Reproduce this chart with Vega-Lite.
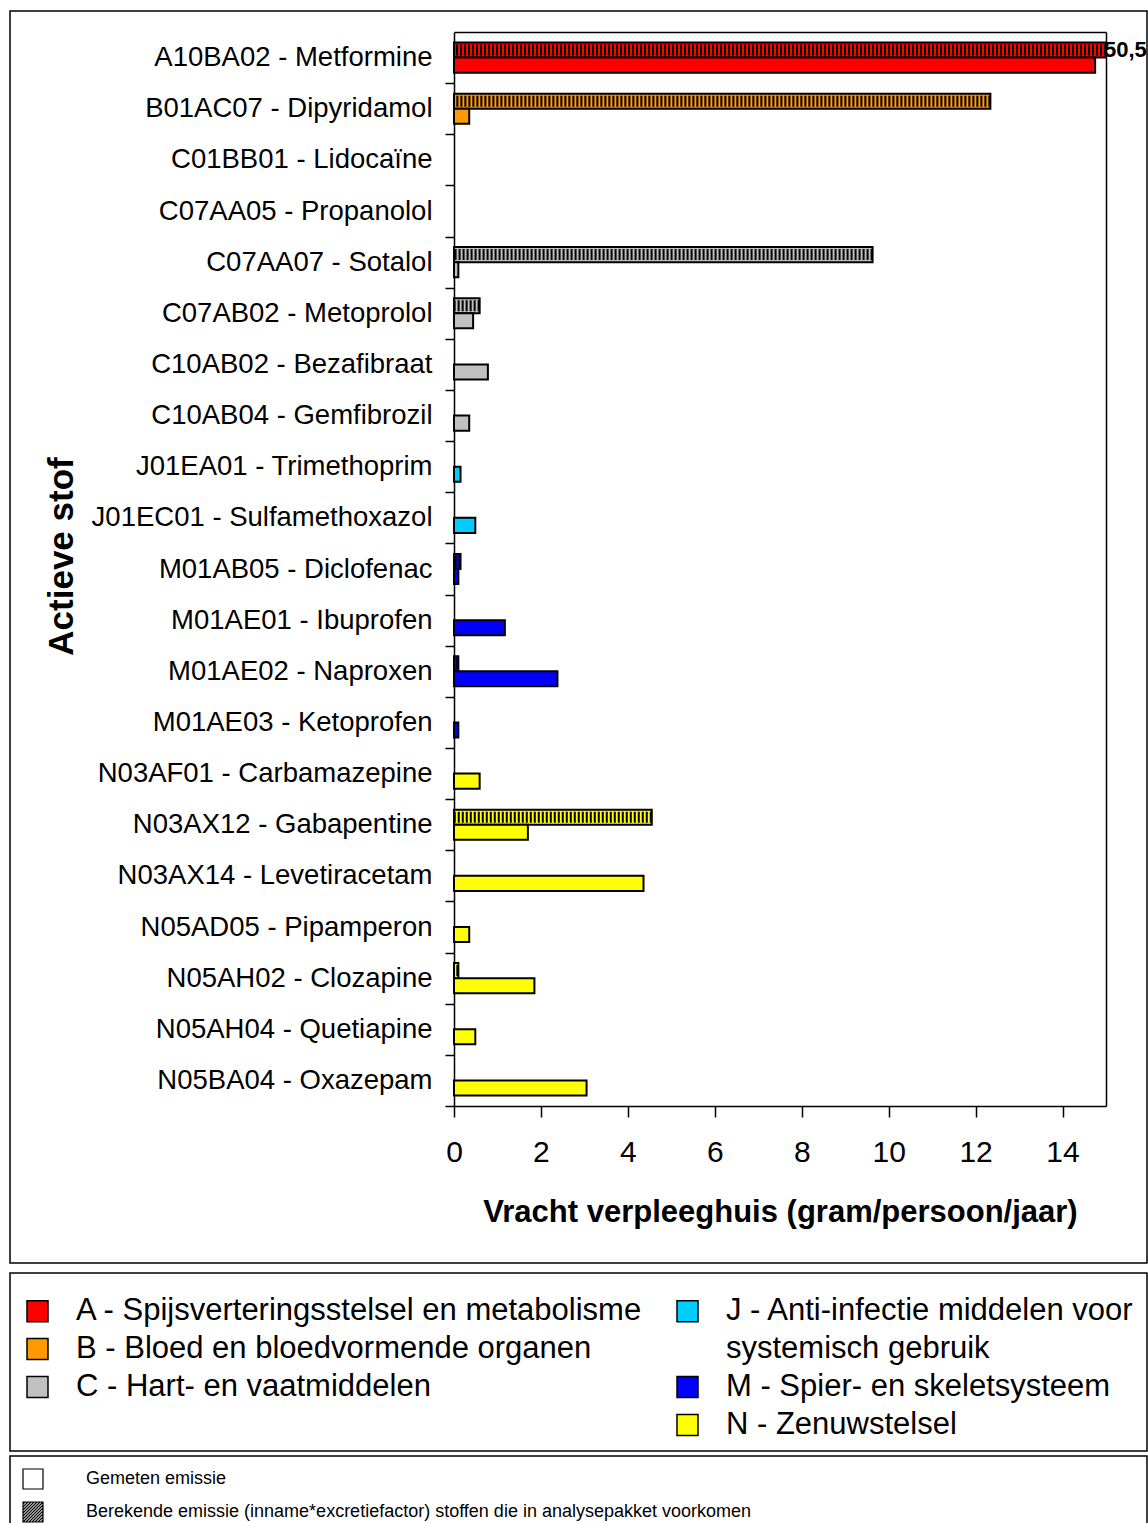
{
  "$schema": "https://vega.github.io/schema/vega-lite/v6.json",
  "background": "white",
  "padding": {"left": 8, "top": 10, "right": 0, "bottom": 0},
  "config": {
    "font": "Liberation Sans",
    "axis": {"grid": false, "domainColor": "black", "tickColor": "black", "labelColor": "black", "titleColor": "black"},
    "view": {"stroke": "black", "strokeWidth": 1.5}
  },
  "data": {"values": [
    {"stof": "A10BA02 - Metformine", "groep": "A - Spijsverteringsstelsel en metabolisme", "type": "Berekende emissie", "vracht": 50.5, "label": "50,5"},
    {"stof": "A10BA02 - Metformine", "groep": "A - Spijsverteringsstelsel en metabolisme", "type": "Gemeten emissie", "vracht": 14.75},
    {"stof": "B01AC07 - Dipyridamol", "groep": "B - Bloed en bloedvormende organen", "type": "Berekende emissie", "vracht": 12.34},
    {"stof": "B01AC07 - Dipyridamol", "groep": "B - Bloed en bloedvormende organen", "type": "Gemeten emissie", "vracht": 0.35},
    {"stof": "C07AA07 - Sotalol", "groep": "C - Hart- en vaatmiddelen", "type": "Berekende emissie", "vracht": 9.63},
    {"stof": "C07AA07 - Sotalol", "groep": "C - Hart- en vaatmiddelen", "type": "Gemeten emissie", "vracht": 0.1},
    {"stof": "C07AB02 - Metoprolol", "groep": "C - Hart- en vaatmiddelen", "type": "Berekende emissie", "vracht": 0.59},
    {"stof": "C07AB02 - Metoprolol", "groep": "C - Hart- en vaatmiddelen", "type": "Gemeten emissie", "vracht": 0.44},
    {"stof": "C10AB02 - Bezafibraat", "groep": "C - Hart- en vaatmiddelen", "type": "Gemeten emissie", "vracht": 0.78},
    {"stof": "C10AB04 - Gemfibrozil", "groep": "C - Hart- en vaatmiddelen", "type": "Gemeten emissie", "vracht": 0.35},
    {"stof": "J01EA01 - Trimethoprim", "groep": "J - Anti-infectie middelen voor systemisch gebruik", "type": "Gemeten emissie", "vracht": 0.15},
    {"stof": "J01EC01 - Sulfamethoxazol", "groep": "J - Anti-infectie middelen voor systemisch gebruik", "type": "Gemeten emissie", "vracht": 0.49},
    {"stof": "M01AB05 - Diclofenac", "groep": "M - Spier- en skeletsysteem", "type": "Berekende emissie", "vracht": 0.15},
    {"stof": "M01AB05 - Diclofenac", "groep": "M - Spier- en skeletsysteem", "type": "Gemeten emissie", "vracht": 0.1},
    {"stof": "M01AE01 - Ibuprofen", "groep": "M - Spier- en skeletsysteem", "type": "Gemeten emissie", "vracht": 1.17},
    {"stof": "M01AE02 - Naproxen", "groep": "M - Spier- en skeletsysteem", "type": "Berekende emissie", "vracht": 0.1},
    {"stof": "M01AE02 - Naproxen", "groep": "M - Spier- en skeletsysteem", "type": "Gemeten emissie", "vracht": 2.38},
    {"stof": "M01AE03 - Ketoprofen", "groep": "M - Spier- en skeletsysteem", "type": "Gemeten emissie", "vracht": 0.1},
    {"stof": "N03AF01 - Carbamazepine", "groep": "N - Zenuwstelsel", "type": "Gemeten emissie", "vracht": 0.59},
    {"stof": "N03AX12 - Gabapentine", "groep": "N - Zenuwstelsel", "type": "Berekende emissie", "vracht": 4.55},
    {"stof": "N03AX12 - Gabapentine", "groep": "N - Zenuwstelsel", "type": "Gemeten emissie", "vracht": 1.7},
    {"stof": "N03AX14 - Levetiracetam", "groep": "N - Zenuwstelsel", "type": "Gemeten emissie", "vracht": 4.36},
    {"stof": "N05AD05 - Pipamperon", "groep": "N - Zenuwstelsel", "type": "Gemeten emissie", "vracht": 0.35},
    {"stof": "N05AH02 - Clozapine", "groep": "N - Zenuwstelsel", "type": "Berekende emissie", "vracht": 0.1},
    {"stof": "N05AH02 - Clozapine", "groep": "N - Zenuwstelsel", "type": "Gemeten emissie", "vracht": 1.85},
    {"stof": "N05AH04 - Quetiapine", "groep": "N - Zenuwstelsel", "type": "Gemeten emissie", "vracht": 0.49},
    {"stof": "N05BA04 - Oxazepam", "groep": "N - Zenuwstelsel", "type": "Gemeten emissie", "vracht": 3.05}
  ]},
  "spacing": 8,
  "resolve": {"scale": {"fill": "independent"}, "legend": {"fill": "independent"}},
  "vconcat": [
    {
      "width": 1137,
      "height": 1252,
      "view": {"stroke": "black", "strokeWidth": 1.5},
      "resolve": {"axis": {"x": "independent", "y": "independent"}},
      "layer": [
        {
          "mark": {"type": "bar", "stroke": "black", "strokeWidth": 2},
          "encoding": {
            "y": {
              "field": "stof", "type": "nominal",
              "scale": {
                "domain": ["A10BA02 - Metformine", "B01AC07 - Dipyridamol", "C01BB01 - Lidocaïne", "C07AA05 - Propanolol", "C07AA07 - Sotalol", "C07AB02 - Metoprolol", "C10AB02 - Bezafibraat", "C10AB04 - Gemfibrozil", "J01EA01 - Trimethoprim", "J01EC01 - Sulfamethoxazol", "M01AB05 - Diclofenac", "M01AE01 - Ibuprofen", "M01AE02 - Naproxen", "M01AE03 - Ketoprofen", "N03AF01 - Carbamazepine", "N03AX12 - Gabapentine", "N03AX14 - Levetiracetam", "N05AD05 - Pipamperon", "N05AH02 - Clozapine", "N05AH04 - Quetiapine", "N05BA04 - Oxazepam"],
                "range": [21, 1095],
                "paddingInner": 0.41,
                "paddingOuter": 0.205
              },
              "axis": {
                "orient": "left", "offset": -444,
                "title": "Actieve stof", "titleFontSize": 35, "titleFontWeight": "bold",
                "titleX": -382, "titleY": 545, "titleAngle": -90, "titleBaseline": "alphabetic", "titleAlign": "center",
                "labelFontSize": 27.5, "labelPadding": 13, "labelLimit": 600, "labelOffset": -10.5,
                "tickSize": 9, "tickWidth": 1.5, "bandPosition": 1, "tickOffset": 10.5, "tickExtra": false, "domainWidth": 1.5
              }
            },
            "yOffset": {"field": "type", "type": "nominal", "scale": {"domain": ["Berekende emissie", "Gemeten emissie"], "paddingInner": 0, "paddingOuter": 0}},
            "x": {
              "field": "vracht", "type": "quantitative",
              "scale": {"domain": [0, 15], "range": [444, 1096], "clamp": true, "nice": false},
              "axis": {
                "orient": "bottom", "offset": -157, "values": [0, 2, 4, 6, 8, 10, 12, 14], "format": "d",
                "title": "Vracht verpleeghuis (gram/persoon/jaar)", "titleFontSize": 31, "titleFontWeight": "bold", "titlePadding": 30,
                "labelFontSize": 30, "labelPadding": 20, "labelFlush": false,
                "tickSize": 11, "tickWidth": 1.5, "domainWidth": 1.5
              }
            },
            "fill": {
              "field": "groep", "type": "nominal",
              "scale": {
                "domain": ["A - Spijsverteringsstelsel en metabolisme", "B - Bloed en bloedvormende organen", "C - Hart- en vaatmiddelen", "J - Anti-infectie middelen voor systemisch gebruik", "M - Spier- en skeletsysteem", "N - Zenuwstelsel"],
                "range": ["#FF0000", "#FF9900", "#C0C0C0", "#00CCFF", "#0000FF", "#FFFF00"]
              },
              "legend": null
            }
          }
        },
        {
          "transform": [{"filter": "datum.type === 'Berekende emissie'"}],
          "mark": {"type": "rule", "stroke": "black", "strokeWidth": 11, "strokeDash": [2, 2]},
          "encoding": {
            "y": {"field": "stof", "type": "nominal", "axis": {"orient": "right", "offset": -41, "labels": false, "ticks": false, "title": null, "domainWidth": 1.5, "minExtent": 0, "maxExtent": 0}},
            "yOffset": {"field": "type", "type": "nominal"},
            "x": {"field": "vracht", "type": "quantitative", "axis": {"orient": "top", "offset": -21, "labels": false, "ticks": false, "title": null, "domainWidth": 1.5, "minExtent": 0, "maxExtent": 0}},
            "x2": {"datum": 0}
          }
        },
        {
          "transform": [{"filter": "isValid(datum.label)"}],
          "mark": {"type": "text", "align": "left", "baseline": "middle", "dx": -2, "fontSize": 22, "fontWeight": "bold", "color": "black"},
          "encoding": {
            "y": {"field": "stof", "type": "nominal", "axis": null},
            "yOffset": {"field": "type", "type": "nominal"},
            "x": {"field": "vracht", "type": "quantitative", "axis": null},
            "text": {"field": "label"}
          }
        }
      ]
    },
    {
      "spacing": 0,
      "resolve": {"scale": {"fill": "independent"}, "legend": {"fill": "independent"}},
      "vconcat": [
        {
          "width": 1137,
          "height": 178,
          "view": {"stroke": "black", "strokeWidth": 1.5},
          "mark": {"type": "square", "opacity": 0},
          "encoding": {
            "x": {"field": "vracht", "type": "quantitative", "axis": null},
            "y": {"field": "vracht", "type": "quantitative", "axis": null},
            "fill": {
              "field": "groep", "type": "nominal",
              "scale": {
                "domain": ["A - Spijsverteringsstelsel en metabolisme", "B - Bloed en bloedvormende organen", "C - Hart- en vaatmiddelen", "J - Anti-infectie middelen voor systemisch gebruik", "M - Spier- en skeletsysteem", "N - Zenuwstelsel", "systemisch gebruik", " "],
                "range": ["#FF0000", "#FF9900", "#C0C0C0", "#00CCFF", "#0000FF", "#FFFF00", "white", "white"]
              },
              "legend": {
                "orient": "none", "legendX": 2, "legendY": 12.5, "padding": 10, "title": null, "direction": "vertical", "columns": 2,
                "values": ["A - Spijsverteringsstelsel en metabolisme", "B - Bloed en bloedvormende organen", "C - Hart- en vaatmiddelen", " ", "J - Anti-infectie middelen voor systemisch gebruik", "systemisch gebruik", "M - Spier- en skeletsysteem", "N - Zenuwstelsel"],
                "labelExpr": "datum.label === 'J - Anti-infectie middelen voor systemisch gebruik' ? 'J - Anti-infectie middelen voor' : datum.label",
                "labelFontSize": 31, "labelLimit": 800, "labelOffset": 23, "labelColor": "black",
                "symbolType": "square", "symbolSize": 441, "columnPadding": 29, "rowPadding": 6,
                "encode": {"symbols": {"update": {
                  "opacity": {"signal": "datum.value === 'systemisch gebruik' || datum.value === ' ' ? 0 : 1"},
                  "stroke": {"value": "black"},
                  "strokeWidth": {"value": 1.5}
                }}}
              }
            }
          }
        },
        {
          "width": 1137,
          "height": 72,
          "view": {"stroke": "black", "strokeWidth": 1.5},
          "mark": {"type": "square", "opacity": 0},
          "encoding": {
            "x": {"field": "vracht", "type": "quantitative", "axis": null},
            "y": {"field": "vracht", "type": "quantitative", "axis": null},
            "fill": {
              "field": "type", "type": "nominal",
              "scale": {"domain": ["Gemeten emissie", "Berekende emissie"], "range": ["white", "white"]},
              "legend": {
                "orient": "none", "legendX": 0, "legendY": 0, "padding": 12, "title": null, "direction": "vertical",
                "values": ["Gemeten emissie", "Berekende emissie"],
                "labelExpr": "datum.label === 'Berekende emissie' ? 'Berekende emissie (inname*excretiefactor) stoffen die in analysepakket voorkomen' : datum.label",
                "labelFontSize": 18, "labelLimit": 1000, "labelOffset": 42, "labelColor": "black",
                "symbolType": "square", "symbolSize": 400, "rowPadding": 7,
                "encode": {"symbols": {"update": {
                  "shape": {"signal": "datum.value === 'Berekende emissie' ? 'M-1,-1H1V1H-1Z M-1,-0.8L-0.8,-1 M-1,-0.5L-0.5,-1 M-1,-0.2L-0.2,-1 M-1,0.1L0.1,-1 M-1,0.4L0.4,-1 M-1,0.7L0.7,-1 M-1,1L1,-1 M-0.7,1L1,-0.7 M-0.4,1L1,-0.4 M-0.1,1L1,-0.1 M0.2,1L1,0.2 M0.5,1L1,0.5 M0.8,1L1,0.8' : 'square'"},
                  "opacity": {"value": 1},
                  "stroke": {"value": "black"},
                  "strokeWidth": {"value": 1.2}
                }}}
              }
            }
          }
        }
      ]
    }
  ]
}
